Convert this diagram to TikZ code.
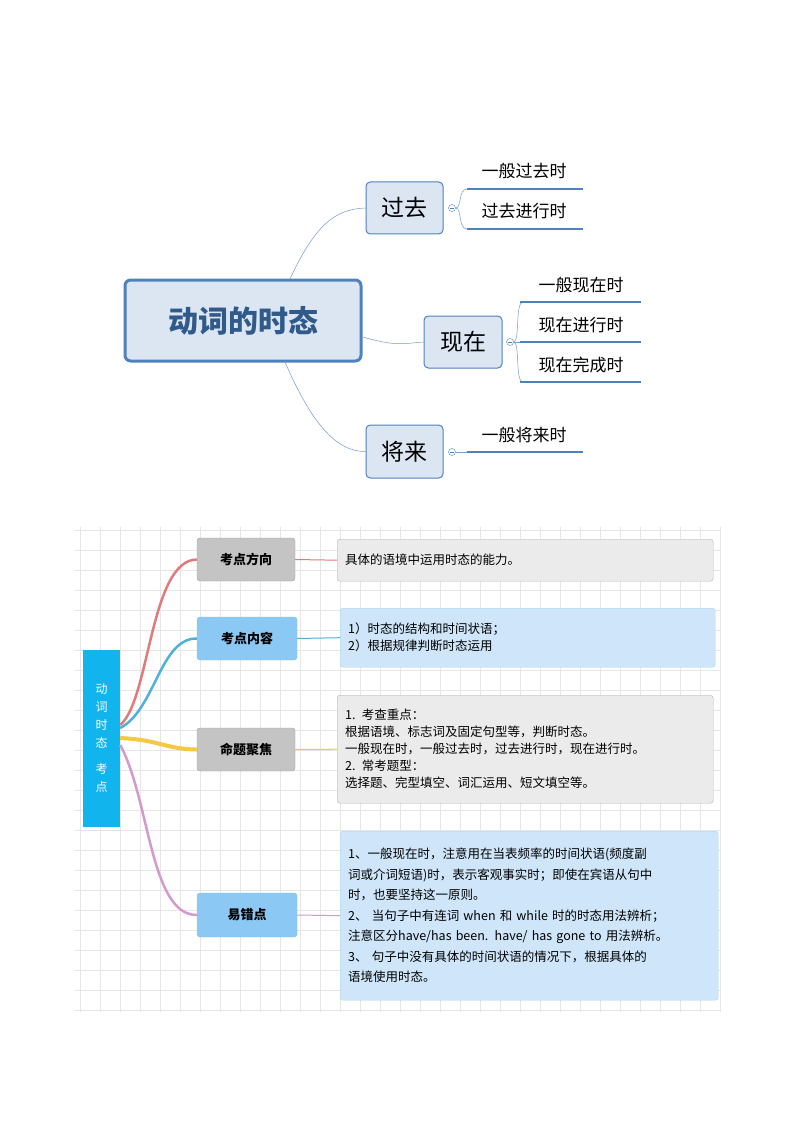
\documentclass[tikz,border=0pt]{standalone}
\usepackage{fontspec}
\setmainfont{Liberation Serif}
\newfontfamily\cjk{Noto Sans CJK SC}
\usetikzlibrary{calc, positioning}
\definecolor{mapblue}{HTML}{4F81BD}
\definecolor{mapfill}{HTML}{DCE6F2}
\definecolor{maptext}{HTML}{2F5A8A}
\definecolor{gridc}{HTML}{E6E6E6}
\definecolor{graybox}{HTML}{C4C4C4}
\definecolor{bluebox}{HTML}{8CC8F4}
\definecolor{lgray}{HTML}{EBEBEB}
\definecolor{lblue}{HTML}{CFE6FA}
\definecolor{cyanbox}{HTML}{12B4EE}
\definecolor{linered}{HTML}{E07B7B}
\definecolor{lineblue}{HTML}{4FB0D8}
\definecolor{lineyellow}{HTML}{F5C842}
\definecolor{linepink}{HTML}{D49AD0}

\begin{document}
\begin{tikzpicture}[x=1pt, y=-1pt,
    topic/.style={draw=mapblue, fill=mapfill, rounded corners=1.5mm, line width=1pt, font=\cjk\fontsize{23}{25}\selectfont},
    leaf/.style={font=\cjk\fontsize{17}{19}\selectfont, anchor=base},
    uline/.style={draw=mapblue, line width=1.6pt},
    twig/.style={draw=mapblue!80, line width=0.5pt},
    fold/.style={draw=mapblue, fill=white, circle, inner sep=0pt, minimum size=7pt, path picture={\draw[mapblue, line width=0.4pt] ([xshift=-2pt]path picture bounding box.center) -- ([xshift=2pt]path picture bounding box.center);}},
    branch/.style={rounded corners=1mm, draw=black!35, minimum height=43pt, minimum width=98pt, font=\cjk\bfseries\fontsize{13}{15}\selectfont},
    note/.style={rounded corners=1mm, draw=black!30, anchor=north west, align=left, text width=360pt, font=\cjk\fontsize{12.5}{17}\selectfont, inner xsep=8pt},
    ]
\useasboundingbox (0,0) rectangle (794,1123);

% Oberes Schema
\node[draw=mapblue, fill=mapfill, rounded corners=2mm, line width=3pt, minimum width=236pt, minimum height=81pt,
      font=\cjk\bfseries\fontsize{30}{32}\selectfont, text=maptext] (Verb) at (243,320.5) {动词的时态};
\node[topic, minimum width=77pt, minimum height=52pt] (Past) at (404.5,208) {过去};
\node[topic, minimum width=78pt, minimum height=52pt] (Now) at (463,342) {现在};
\node[topic, minimum width=77pt, minimum height=53pt] (Future) at (404.5,451.5) {将来};

\draw[twig] (290,279) .. controls (315,225) and (335,209) .. (Past.west);
\draw[twig] (Verb.east |- 0,337) .. controls (395,346) and (400,344) .. (Now.west);
\draw[twig] (285,362) .. controls (310,420) and (335,452) .. (Future.west);

% Zweige Vergangenheit
\node[fold] (PastFold) at (452,208) {};
\draw[twig] (PastFold.east) .. controls (462,208) and (458,189) .. (467,189);
\draw[twig] (PastFold.east) .. controls (462,208) and (458,229) .. (467,229);
\draw[uline] (467,189) -- (583,189);
\draw[uline] (467,229) -- (583,229);
\node[leaf] (PastA) at (524,178) {一般过去时};
\node[leaf] (PastB) at (524,218) {过去进行时};

% Zweige Gegenwart
\node[fold] (NowFold) at (510,342) {};
\draw[twig] (NowFold.east) .. controls (520,342) and (515,302) .. (523,302);
\draw[twig] (NowFold.east) -- (523,342);
\draw[twig] (NowFold.east) .. controls (520,342) and (515,382) .. (523,382);
\draw[uline] (520,302) -- (641,302);
\draw[uline] (520,342) -- (641,342);
\draw[uline] (520,382) -- (641,382);
\node[leaf] (NowA) at (581,291) {一般现在时};
\node[leaf] (NowB) at (581,331) {现在进行时};
\node[leaf] (NowC) at (581,371) {现在完成时};

% Zweig Zukunft
\node[fold] (FutureFold) at (452,452) {};
\draw[twig] (FutureFold.east) -- (467,452);
\draw[uline] (467,452) -- (583,452);
\node[leaf] (FutureA) at (524,441) {一般将来时};

% Unteres Schema: Raster
\fill[white] (75,527) rectangle (720,1012);
\foreach \gx in {80,100,...,720} \draw[gridc, line width=0.6pt] (\gx,527) -- (\gx,1012);
\foreach \gy in {530,550,...,1010} \draw[gridc, line width=0.6pt] (75,\gy) -- (720,\gy);

\node[fill=cyanbox, minimum width=37pt, minimum height=177pt, text=white, align=center,
      font=\cjk\fontsize{12}{18}\selectfont] (Core) at (101.5,738.5) {动\\词\\时\\态\\[8pt]考\\点};

\node[branch, fill=graybox] (Aim) at (246,559.5) {考点方向};
\node[branch, fill=bluebox, draw=lineblue!70, minimum width=100pt] (Content) at (247,638.5) {考点内容};
\node[branch, fill=graybox] (Focus) at (246,749.5) {命题聚焦};
\node[branch, fill=bluebox, draw=lineblue!70, minimum width=100pt, minimum height=44pt] (Errors) at (247,915) {易错点};

\node[note, fill=lgray, minimum height=42pt, text width=360pt] (AimNote) at (337,539) {具体的语境中运用时态的能力。};
\node[note, fill=lblue, draw=lineblue!50, minimum height=59pt, text width=359pt] (ContentNote) at (340,608) {1）时态的结构和时间状语；\\2）根据规律判断时态运用};
\node[note, fill=lgray, minimum height=108pt, text width=360pt] (FocusNote) at (337,695) {1. 考查重点：\\根据语境、标志词及固定句型等，判断时态。\\一般现在时，一般过去时，过去进行时，现在进行时。\\2. 常考题型：\\选择题、完型填空、词汇运用、短文填空等。};
\node[note, fill=lblue, draw=lineblue!50, minimum height=169pt, text width=362pt, font=\cjk\fontsize{12.5}{20.5}\selectfont] (ErrorsNote) at (340,831) {1、一般现在时，注意用在当表频率的时间状语(频度副\\词或介词短语)时，表示客观事实时；即使在宾语从句中\\时，也要坚持这一原则。\\2、 当句子中有连词 when 和 while 时的时态用法辨析；\\注意区分have/has been. have/ has gone to 用法辨析。\\3、 句子中没有具体的时间状语的情况下，根据具体的\\语境使用时态。};

% Verbindungen
\draw[linered, line width=2.5pt] (Core.east |- 0,725) .. controls (150,700) and (150,560) .. (Aim.west);
\draw[lineblue, line width=2.5pt] (Core.east |- 0,728) .. controls (155,710) and (160,638) .. (Content.west);
\draw[lineyellow, line width=4pt] (Core.east |- 0,738) .. controls (160,740) and (165,749) .. (Focus.west);
\draw[linepink, line width=2.5pt] (Core.east |- 0,745) .. controls (150,800) and (150,915) .. (Errors.west);
\draw[linered, line width=1pt] (Aim.east) -- (AimNote.west);
\draw[lineblue, line width=1pt] (Content.east) -- (ContentNote.west);
\draw[lineyellow, line width=1pt] (Focus.east) -- (FocusNote.west);
\draw[linepink, line width=1pt] (Errors.east) -- (ErrorsNote.west);
\end{tikzpicture}
\end{document}
